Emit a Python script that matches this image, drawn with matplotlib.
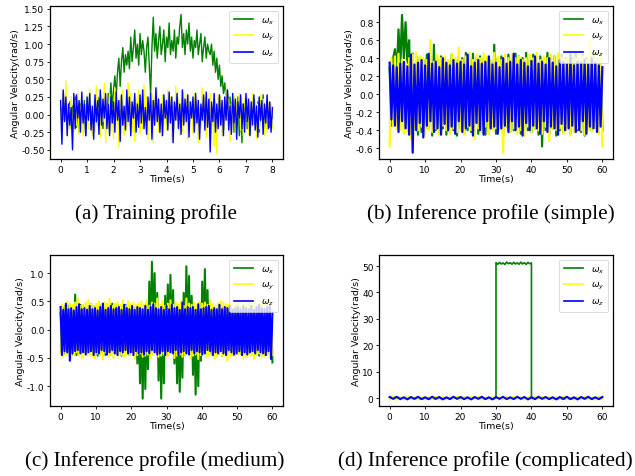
import numpy as np
import matplotlib
matplotlib.use("Agg")
import matplotlib.pyplot as plt

# ---------------- data (values in 1/100 rad/s unless noted) ----------------
# (a) Training profile, 0..8 s
wx_a = [10, -12, 30, -8, 22, -15, 5, 18, -20, 12, -5, 25, -18, 8, -25, 15, 2, -10, 20, -30,
        10, -5, 28, -12, 6, -22, 14, 0, -15, 24, -8, 12, -20, 18, 5, -10, 30,
        15, 45, 10, 35, 55, 25, 60, 80, 40, 75, 95, 60, 85, 70,
        90, 65, 110, 75, 95, 120, 80, 100, 70, 115, 85, 105, 90, 60, 95, 110,
        70, 28, 95, 138,
        90, 115, 80, 105, 125, 85, 100, 120, 75, 110, 95, 130, 85, 105, 90, 120, 80, 110, 100, 125,
        142, 95, 115, 85, 120, 100, 130, 90, 110, 80, 105, 95, 120, 85, 100, 115, 75, 95, 110, 80,
        100, 90,
        85, 100, 70, 90, 60, 80, 50, 70, 40, 55, 30, 45, 20, 35, 10, 25,
        -5, 20, -25, 10, -15, 25, -30, 5, -40, 15, -10, 20, -20, 8, -28, 12, -5, 22, -15, 0,
        18, -25, 10, -8, 28, -20, 5, -12, 15, -18, 10, -5]
wy_a = [5, -25, 30, -10, 48, -30, 15, -20, 25, -35, 10, 20, -15, 30, -28, 5, 22, -30, 12, -10,
        28, -20, 35, -5, -30, 20, -25, 40, -15, 10, -32, 25, -10, 45, -40, 15, -20, 30, -25, 8,
        -35, 38, -10, 20, -45, 25, -5, 35, -30, 12, -20, 45, -15, 30, -25, 10, -38, 22, -8, 35,
        -28, 15, -20, 42, -10, 25, -35, 18, -5, 30, -40, 20, -12, 38, -25, 8, -30, 28, -15, 20,
        -22, 35, -10, 25, -38, 12, -20, 40, -8, 22, -30, 15, -25, 32, -12, 20, -35, 28, -5, 18,
        -28, 30, -15, 22, -40, 10, -20, 38, -10, 25, -32, 18, -8, 30, -25, 12, -45, 20, -55, 28,
        -15, 25, -30, 10, -20, 35, -8, 22, -38, 15, -12, 28, -25, 18, -5, 30, -22, 10, -30, 20,
        -10, 25, -28, 12, -18, 30, -5, 20, -35, 15, -20, 28, -12, 22, -30, 10, -25, 18, -8, 15, -20]
wz_a = [20, -42, 35, -10, 25, -30, 15, -15, 10, -50, 30, -20, 28, -5, 20, -25, 32, -12, 15, -30,
        25, -8, 30, -22, 12, -35, 28, -10, 20, -28, 35, -15, 22, -5, 30, -20, 15, -30, 25, -12,
        18, -25, 32, -8, 20, -38, 28, -15, 12, -22, 35, -10, 25, -30, 18, -5, 30, -25, 15, -18,
        28, -12, 35, -20, 10, -28, 25, -8, 30, -35, 20, -15, 38, -10, 22, -25, 15, -30, 28, -5,
        20, -22, 32, -12, 25, -40, 18, -8, 30, -20, 15, -28, 35, -15, 22, -10, 28, -32, 18, -5,
        25, -25, 30, -12, 20, -35, 15, -8, 28, -22, 32, -18, 22, -53, 18, -10, 30, -25, 15, -20,
        28, -15, 20, -30, 25, -8, 35, -22, 12, -28, 30, -12, 22, -35, 18, -5, 28, -20, 15, -25,
        30, -10, 22, -30, 18, -15, 28, -22, 12, -32, 25, -8, 20, -28, 15, -12, 28, -20, 18, -25, 10]

# (b) Inference profile (simple), 0..60 s
wx_b = [30, -35, 40, 50, 20, 72, 30, 88, 40, 80, 35, 60, -40, 45, -38, 42, -45, 40, -42, 38,
        -40, 44, -38, 42, -46, 55, -40, 38, -44, 42, -38, 40, -45, 36, -42, 44, -40, 38, -46, 42,
        -38, 40, -44, 46, -40, 38, -42, 45, -36, 40, -44, 42, -40, 38, -45, 40, -42, 36, -38, 55,
        -44, 40, -38, 42, -46, 40, -36, 44, -42, 38, -40, 45, -38, 42, -44, 40, -36, 46, -40, 38,
        -42, 44, -38, 40, -45, 42, -58, 38, -40, 46, -44, 40, -38, 42, -46, 38, -40, 44, -42, 40,
        -38, 42, -44, 40, -36, 45, -40, 38, -42, 44, -46, 40, -38, 42, -40, 44, -36, 40, -42, 38,
        -40]
wy_b = [-58, 40, -35, 42, -38, 45, -40, 38, -44, 36, -42, 40, -50, 44, -38, 46, -40, 42, -36, 40,
        -45, 38, -40, 60, -42, 36, -38, 44, -46, 40, -35, 42, -40, 38, -44, 45, -38, 40, -42, 52,
        -40, 38, -45, 42, -36, 46, -40, 38, -50, 44, -38, 40, -42, 45, -36, 42, -44, 38, -40, 46,
        -38, 42, -40, 38, -65, 44, -36, 40, -42, 45, -38, 40, -44, 42, -40, 38, -46, 40, -36, 44,
        -42, 40, -38, 46, -40, 38, -44, 42, -36, 40, -52, 44, -38, 42, -40, 45, -38, 40, -44, 38,
        -40, 42, -46, 38, -42, 40, -38, 44, -40, 42, -45, 38, -40, 60, -42, 46, -38, 40, -44, 42,
        -58]
wz_b = [35, -28, 32, -35, 30, -42, 34, -30, 36, -38, 31, -45, 44, -65, 33, -40, 35, -32, 38, -48,
        32, -35, 45, -30, 34, -42, 36, -38, 30, -45, 40, -33, 35, -40, 32, -36, 38, -44, 34, -30,
        36, -42, 33, -38, 44, -35, 31, -46, 35, -32, 38, -40, 34, -45, 36, -30, 42, -38, 33, -36,
        35, -44, 30, -38, 40, -35, 34, -42, 36, -30, 45, -40, 33, -36, 38, -46, 35, -32, 31, -40,
        37, -35, 42, -38, 34, -44, 36, -30, 33, -42, 40, -36, 35, -38, 31, -45, 38, -33, 36, -40,
        34, -38, 44, -35, 32, -42, 36, -40, 35, -30, 38, -44, 33, -36, 40, -38, 35, -42, 32, -36,
        30]

# (c) Inference profile (medium), 0..60 s
wx_c = [30, -35, 38, -42, 35, -40, 42, -38, 36, -44, -40, 62, -45, 38, -40, 44, -36, 42, -38, 40,
        -44, 38, -40, 45, -36, 42, -38, 40, -46, 38, -42, 44, -40, 36, -45, 42, -38, 40, -44, 46,
        -40, 38, -42, 44, -38, 40, -46, 42, -36, 44, -40, 38, -45, 42, -38, 40,
        -35, 35, -60, 30, -95, 28, -122, 30, -105, 45, -70, 85, -40, 120, -30, 100, -35, 65, -90, 35,
        -122, 40, -95, 60, -45, 80, -30, 97, -30, 70, -60, 35, -95, 30, -110, 40, -85, 65, -45, 112,
        -35, 95, -40, 60, -80, 35, -115, 30, -100, 45, -55, 85, -35, 107, -30, 70, -40,
        38, -42, 40, -44, 36, -40, 45, -38, 42, -46, 40, -38, 44, -42, 36, -40, 38, -45, 42, -40,
        44, -38, 40, -42, 36, -44, 38, -40, 45, -42, 40, -38, 36, -44, 42, -40, 38, -46, 44, -40,
        42, -38, 40, -44, 36, -42, 38, -58]
wy_c = [-40, 45, -48, 42, -44, 50, -42, 46, -52, 44, -45, 48, -40, 55, -46, 42, -50, 44, -42, 48,
        -46, 52, -44, 45, -48, 42, -50, 46, -42, 50, -45, 44, -52, 48, -40, 46, -48, 55, -44, 42,
        -50, 46, -42, 48, -46, 44, -45, 52, -48, 42, -44, 50, -46, 45, -42, 48, -50, 44, -45, 46,
        -42, 50, -48, 44, -46, 52, -44, 42, -50, 48, -45, 46, -42, 55, -48, 44, -46, 50, -44, 42,
        -48, 46, -45, 52, -42, 44, -50, 48, -46, 45, -44, 50, -48, 42, -45, 55, -42, 46, -50, 44,
        -46, 48, -44, 42, -52, 50, -45, 46, -42, 48, -48, 44, -46, 52, -44, 45, -50, 42, -48, 46,
        -44, 50, -46, 48, -42, 45, -55, 44, -48, 50, -45, 42, -46, 48, -44, 52, -42, 46, -50, 44,
        -48, 45, -44, 50, -46, 42, -52, 48, -45, 46, -42, 50, -48, 44, -46, 52, -44, 42, -50, 46, -45]
wz_c = [40, -45, 35, -38, 46, -40, 36, -55, 38, -42, 34, -38, 40, -36, 45, -42, 36, -40, 38, -44,
        35, -40, 42, -38, 36, -45, 38, -40, 34, -42, 40, -36, 46, -38, 35, -44, 38, -40, 42, -36,
        36, -42, 38, -45, 40, -38, 35, -40, 44, -36, 38, -42, 36, -40, 42, -45, 35, -38, 40, -42,
        38, -40, 36, -44, 42, -38, 35, -42, 40, -36, 45, -40, 38, -44, 36, -42, 40, -38, 35, -45,
        42, -38, 36, -40, 44, -42, 38, -36, 40, -45, 35, -40, 48, -38, 36, -42, 40, -44, 38, -36,
        40, -42, 35, -38, 45, -40, 36, -44, 38, -42, 40, -36, 42, -38, 35, -45, 38, -40, 36, -42,
        44, -38, 36, -42, 40, -45, 38, -36, 42, -40, 35, -44, 38, -42, 40, -38, 36, -45, 42, -40,
        38, -44, 36, -40, 42, -38, 35, -42, 40, -36, 44, -40, 38, -42, 36, -45, 40, -38, 42, -52, 30]

# (d) Inference profile (complicated), rad/s
wx_d_time = [0, 10, 20, 30, 30, 30.5, 31, 31.5, 32, 32.5, 33, 33.5, 34, 34.5, 35, 35.5, 36, 36.5,
             37, 37.5, 38, 38.5, 39, 39.5, 40, 40, 50, 60]
wx_d = [0.3, -0.3, 0.2, -0.2, 51.3, 50.7, 51.4, 50.8, 51.2, 50.6, 51.5, 50.9, 51.3, 50.7, 51.4,
        50.8, 51.2, 50.7, 51.5, 50.8, 51.3, 50.6, 51.4, 50.9, 51.2, 0.2, -0.3, 0.2]
wy_d = [-0.5, 0.4, -0.6, 0.3, -0.5, 0.5, -0.4, 0.3, -0.6, 0.4, -0.5, 0.3, -0.4, 0.5, -0.6, 0.4,
        -0.5, 0.3, -0.4, 0.5, -0.6, 0.3, -0.5, 0.4, -0.4, 0.5, -0.6, 0.3, -0.5, 0.4, -0.4, 0.3,
        -0.5, 0.4, -0.6, 0.5, -0.4, 0.3, -0.5, 0.4, -0.6, 0.3, -0.4, 0.5, -0.5, 0.4, -0.6, 0.3,
        -0.4, 0.5, -0.5, 0.3, -0.6, 0.4, -0.4, 0.5, -0.5, 0.3, -0.6, 0.4, -0.5]
wz_d = [0.4, -0.3, 0.5, -0.4, 0.3, -0.5, 0.4, -0.3, 0.5, -0.4, 0.3, -0.4, 0.5, -0.3, 0.4, -0.5,
        0.3, -0.4, 0.5, -0.3, 0.4, -0.4, 0.3, -0.5, 0.4, -0.3, 0.5, -0.4, 0.3, -0.5, 0.4, -0.3,
        0.5, -0.4, 0.3, -0.4, 0.5, -0.3, 0.4, -0.5, 0.3, -0.4, 0.5, -0.3, 0.4, -0.4, 0.3, -0.5,
        0.4, -0.3, 0.5, -0.4, 0.3, -0.5, 0.4, -0.3, 0.5, -0.4, 0.3, -0.4, 0.4]

captions = ["(a) Training profile", "(b) Inference profile (simple)",
            "(c) Inference profile (medium)", "(d) Inference profile (complicated)"]
labels = [r"$\omega_x$", r"$\omega_y$", r"$\omega_z$"]
colors = ["green", "yellow", "blue"]

# ---------------- figure ----------------
W, H = 635, 477
fig = plt.figure(figsize=(W / 100, H / 100), dpi=100)

def box(l, t, r, b):
    return [l / W, 1 - b / H, (r - l) / W, (b - t) / H]

axA = fig.add_axes(box(50, 7, 283, 160))
axB = fig.add_axes(box(379, 7, 613, 160))
axC = fig.add_axes(box(50, 256, 283, 407))
axD = fig.add_axes(box(379, 256, 613, 407))

def style(ax, xlim, ylim, yticks, fmt):
    ax.set_xlim(*xlim)
    ax.set_ylim(*ylim)
    ax.set_yticks(yticks)
    ax.yaxis.set_major_formatter(plt.FormatStrFormatter(fmt))
    ax.tick_params(labelsize=6.5, length=2.5, width=0.6, pad=1.5)
    for s in ax.spines.values():
        s.set_linewidth(0.9)
    ax.set_xlabel("Time(s)", fontsize=6.8, labelpad=0.5)
    ax.set_ylabel("Angular Velocity(rad/s)", fontsize=6.8, labelpad=1)
    leg = ax.legend(loc="upper right", fontsize=6.5, handlelength=2.2,
                    borderpad=0.5, labelspacing=0.6, handletextpad=0.8)
    leg.get_frame().set_linewidth(0.6)
    for ln in leg.get_lines():
        ln.set_linewidth(1.2)

def draw(ax, series, T, lw):
    for vals, c, lab in zip(series, colors, labels):
        v = np.asarray(vals, float) / 100.0
        t = np.linspace(0, T, len(v))
        ax.plot(t, v, color=c, lw=lw, label=lab)

draw(axA, [wx_a, wy_a, wz_a], 8, 1.0)
style(axA, (-0.4, 8.4), (-0.63, 1.54), np.arange(-0.5, 1.51, 0.25), "%.2f")
axA.set_xticks(range(0, 9))

draw(axB, [wx_b, wy_b, wz_b], 60, 1.6)
style(axB, (-3, 63), (-0.72, 0.98), np.arange(-0.6, 0.81, 0.2), "%.1f")
axB.set_xticks(range(0, 61, 10))

draw(axC, [wx_c, wy_c, wz_c], 60, 1.5)
style(axC, (-3, 63), (-1.35, 1.32), [-1.0, -0.5, 0.0, 0.5, 1.0], "%.1f")
axC.set_xticks(range(0, 61, 10))

axD.plot(wx_d_time, wx_d, color="green", lw=1.2, label=labels[0])
tD = np.linspace(0, 60, len(wy_d))
axD.plot(tD, wy_d, color="yellow", lw=1.5, label=labels[1])
axD.plot(tD, wz_d, color="blue", lw=1.5, label=labels[2])
style(axD, (-3, 63), (-3.0, 54.2), [0, 10, 20, 30, 40, 50], "%d")
axD.set_xticks(range(0, 61, 10))

cap_kw = dict(family="Liberation Serif", fontsize=15.2, ha="center", va="center")
fig.text(156 / W, 1 - 214 / H, captions[0], **cap_kw)
fig.text(491 / W, 1 - 214 / H, captions[1], **cap_kw)
fig.text(155 / W, 1 - 461 / H, captions[2], **cap_kw)
fig.text(485 / W, 1 - 461 / H, captions[3], **cap_kw)

fig.savefig("out.png", dpi=100)
